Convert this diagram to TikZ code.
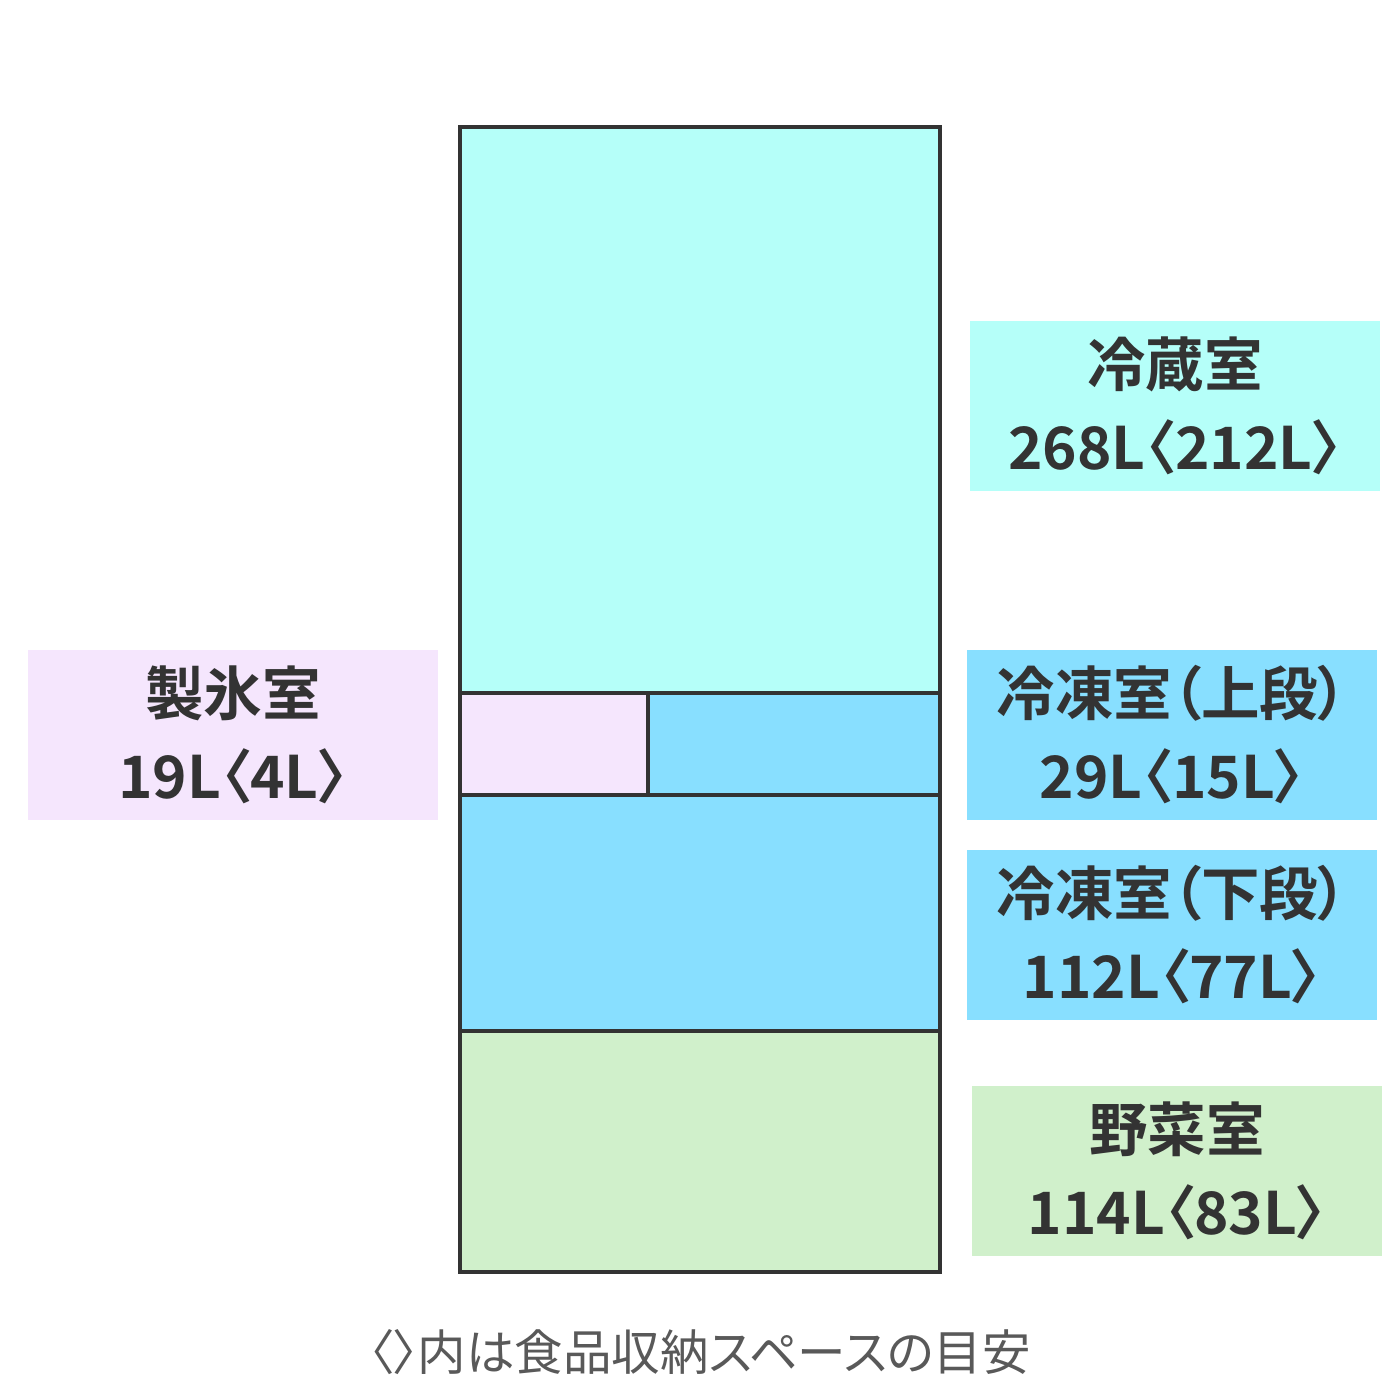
\documentclass[tikz,border=0pt]{standalone}
\usepackage{fontspec}
\newfontfamily\jpb[RawFeature=+palt]{Noto Sans CJK JP Bold}
\newfontfamily\jpr[RawFeature=+palt]{Noto Sans CJK JP}
\definecolor{ink}{HTML}{333333}
\definecolor{grayink}{HTML}{595959}
\definecolor{fridgecyan}{HTML}{B5FFF9}
\definecolor{icepink}{HTML}{F5E6FD}
\definecolor{freezeblue}{HTML}{88DFFF}
\definecolor{vegegreen}{HTML}{D0F0CB}
\tikzset{
  comp/.style={draw=ink, line width=4pt},
  labelbox/.style={inner sep=0pt, minimum width=410pt, minimum height=170pt, align=center, text=ink, font=\jpb\fontsize{58.5}{83}\selectfont}
}
\begin{document}
\begin{tikzpicture}[x=1pt,y=-1pt]
\useasboundingbox (0,0) rectangle (1400,1400);
\fill[white] (0,0) rectangle (1400,1400);
% compartments
\path[fill=fridgecyan] (460,127) rectangle (940,693);
\path[fill=icepink] (460,693) rectangle (648,795);
\path[fill=freezeblue] (648,693) rectangle (940,795);
\path[fill=freezeblue] (460,795) rectangle (940,1031);
\path[fill=vegegreen] (460,1031) rectangle (940,1272);
\coordinate (tl) at (460,127);
\coordinate (br) at (940,1272);
\coordinate (d1l) at (460,693); \coordinate (d1r) at (940,693);
\coordinate (d2l) at (460,795); \coordinate (d2r) at (940,795);
\coordinate (d3l) at (460,1031); \coordinate (d3r) at (940,1031);
\coordinate (vt) at (648,693); \coordinate (vb) at (648,795);
\draw[comp] (d1l) -- (d1r);
\draw[comp] (d2l) -- (d2r);
\draw[comp] (d3l) -- (d3r);
\draw[comp] (vt) -- (vb);
\draw[comp] (tl) rectangle (br);
% labels
\node[labelbox, fill=fridgecyan] (reizo) at (1175,405.5) {冷蔵室\\268L〈212L〉};
\node[labelbox, fill=icepink] (seihyo) at (233,735) {製氷室\\19L〈4L〉};
\node[labelbox, fill=freezeblue] (tojo) at (1172,735) {冷凍室（上段）\\29L〈15L〉};
\node[labelbox, fill=freezeblue] (toge) at (1172,935) {冷凍室（下段）\\112L〈77L〉};
\node[labelbox, fill=vegegreen] (yasai) at (1177,1171) {野菜室\\114L〈83L〉};
% footer
\node[text=grayink, font=\jpr\fontsize{48.5}{52}\selectfont, inner sep=0pt] (note) at (700,1352) {〈〉内は食品収納スペースの目安};
\end{tikzpicture}
\end{document}
